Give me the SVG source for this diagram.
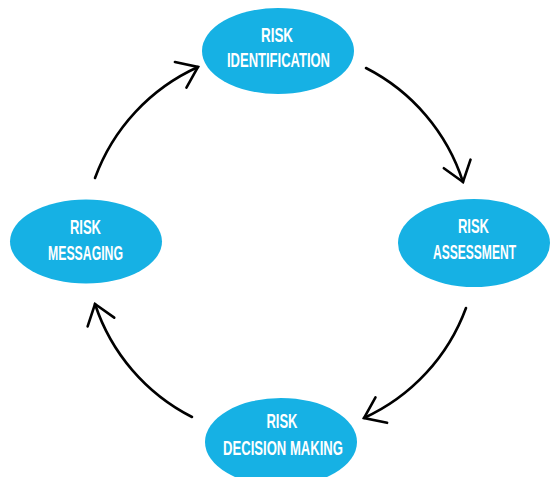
<svg xmlns="http://www.w3.org/2000/svg" width="550" height="477" viewBox="0 0 550 477">
<style>
.node{fill:#16b1e4;}
.lbl{fill:#ffffff;font-family:"Liberation Sans",Arial,sans-serif;font-weight:bold;font-size:21px;text-anchor:middle;}
.arc{fill:none;stroke:#000;stroke-width:2.6;stroke-linecap:round;marker-end:url(#ah);}
</style>
<defs>
<marker id="ah" markerUnits="userSpaceOnUse" viewBox="-24 -16 28 32" refX="0" refY="0" markerWidth="28" markerHeight="32" orient="auto">
<path d="M -19,-14 L 0,0 L -19,14" fill="none" stroke="#000" stroke-width="2.6" stroke-linecap="round" stroke-linejoin="miter"/>
</marker>
</defs>
<rect width="550" height="477" fill="#ffffff"/>
<g id="connectors">
<path class="arc" d="M 366,68 A 195,195 0 0 1 463,182"/>
<path class="arc" d="M 466,308 A 195,195 0 0 1 364,418"/>
<path class="arc" d="M 192,417 A 195,195 0 0 1 95,304"/>
<path class="arc" d="M 95,178 A 195,195 0 0 1 198,67"/>
</g>
<g id="risk-identification">
<ellipse class="node" cx="278" cy="51" rx="76" ry="43"/>
<text class="lbl" x="277" y="42" textLength="32" lengthAdjust="spacingAndGlyphs">RISK</text>
<text class="lbl" x="278.5" y="67" textLength="103" lengthAdjust="spacingAndGlyphs">IDENTIFICATION</text>
</g>
<g id="risk-assessment">
<ellipse class="node" cx="474" cy="243" rx="76" ry="44"/>
<text class="lbl" x="473.5" y="233" textLength="31" lengthAdjust="spacingAndGlyphs">RISK</text>
<text class="lbl" x="474.5" y="259" textLength="83" lengthAdjust="spacingAndGlyphs">ASSESSMENT</text>
</g>
<g id="risk-decision-making">
<ellipse class="node" cx="281" cy="442" rx="76" ry="44"/>
<text class="lbl" x="282" y="428" textLength="31" lengthAdjust="spacingAndGlyphs">RISK</text>
<text class="lbl" x="283" y="455" textLength="120" lengthAdjust="spacingAndGlyphs">DECISION MAKING</text>
</g>
<g id="risk-messaging">
<ellipse class="node" cx="86" cy="241.5" rx="76" ry="42"/>
<text class="lbl" x="85.5" y="234" textLength="31" lengthAdjust="spacingAndGlyphs">RISK</text>
<text class="lbl" x="85.5" y="260" textLength="75" lengthAdjust="spacingAndGlyphs">MESSAGING</text>
</g>
</svg>
